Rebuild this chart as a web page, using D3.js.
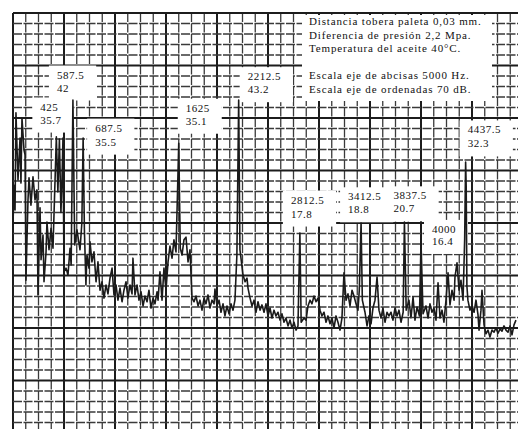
<!DOCTYPE html>
<html><head><meta charset="utf-8">
<script src="https://cdn.jsdelivr.net/npm/d3@7"></script>
<style>html,body{margin:0;padding:0;background:#fff;} svg{display:block;}</style>
</head><body>
<svg id="c" width="518" height="429"></svg>
<script>
// ---- data (frequency in Hz, level in dB) ----
const spectrum = [
[0,19.6],[10,27.2],[20,22.5],[29,41.0],[49,28.2],[69,36.2],[78,27.6],[88,40.0],[108,33.9],[118,33.0],[127,9.1],[147,24.4],[157,28.6],[176,23.4],[196,28.8],[216,24.4],[235,26.3],[245,6.3],[265,22.9],[275,13.0],[294,17.7],[304,8.8],[324,14.5],[333,20.2],[353,14.9],[373,19.0],[392,15.2],[425,36.4],[440,25.9],[455,36.0],[470,22.0],[480,28.0],[490,36.2],[500,10.7],[520,11.4],[539,10.1],[559,15.2],[570,12.0],[580,30.0],[587.5,43.4],[605,15.8],[627,18.7],[657,14.9],[675,20.0],[687.5,36.2],[700,18.7],[715,8.2],[725,13.9],[745,11.4],[755,16.4],[774,12.6],[794,14.5],[814,8.8],[833,12.6],[853,7.2],[873,8.8],[892,5.7],[912,8.2],[931,6.5],[951,9.5],[971,11.4],[990,6.3],[1010,8.2],[1029,5.3],[1049,7.6],[1069,5.0],[1088,7.2],[1108,8.8],[1127,5.7],[1147,8.2],[1167,6.5],[1176,13.3],[1196,6.3],[1216,8.2],
[1235,5.3],[1255,6.9],[1275,4.2],[1294,6.1],[1314,5.0],[1333,7.2],[1353,3.8],[1373,5.7],[1392,4.6],[1412,6.9],[1422,5.3],[1441,10.7],[1461,5.3],[1480,11.4],[1500,7.2],[1520,12.6],[1539,15.6],[1559,13.3],[1578,16.8],[1598,14.5],[1625,35.2],[1640,15.2],[1657,13.9],[1676,16.8],[1696,17.3],[1716,12.6],[1735,14.9],[1755,5.7],[1775,5.0],[1794,6.1],[1814,4.2],[1833,5.3],[1853,3.4],[1873,5.7],[1892,4.6],[1912,6.3],[1931,3.8],[1951,5.3],[1971,4.6],[1980,7.4],[2000,4.2],[2020,5.3],[2039,3.0],[2059,4.6],[2078,2.3],[2098,4.2],[2118,2.7],[2137,4.6],[2157,3.4],[2176,5.3],[2195,13.9],[2212.5,43.4],[2225,14.9],[2255,10.1],[2275,8.8],[2294,9.5],[2304,7.6],[2324,5.7],[2343,4.2],[2363,5.3],[2382,3.0],[2402,5.0],[2422,3.4],[2441,4.4],
[2461,3.0],[2480,4.6],[2500,2.3],[2520,3.8],[2539,1.9],[2559,3.4],[2578,2.3],[2598,3.0],[2618,1.5],[2637,2.7],[2657,1.1],[2676,1.9],[2696,0.4],[2716,1.5],[2735,0.0],[2755,1.1],[2775,-0.4],[2794,0.4],[2812.5,18.1],[2825,1.1],[2853,1.9],[2873,1.5],[2892,4.2],[2912,5.3],[2931,4.6],[2951,6.1],[2971,5.0],[2990,5.7],[3010,3.4],[3029,2.3],[3049,3.0],[3069,1.1],[3088,2.3],[3108,0.8],[3127,1.9],[3147,0.0],[3167,2.3],[3186,1.1],[3206,-0.4],[3225,1.9],[3245,10.5],[3265,5.3],[3284,6.5],[3304,4.2],[3324,7.2],[3343,6.1],[3363,4.6],[3382,3.4],[3395,7.2],[3412.5,20.0],[3425,5.3],[3451,3.0],[3471,0.4],[3490,2.3],[3510,0.8],[3529,3.8],[3549,5.3],[3569,9.7],[3588,3.4],[3608,1.9],[3627,3.8],[3647,1.1],[3667,3.0],[3686,2.3],
[3706,3.0],[3725,1.5],[3745,3.8],[3765,2.3],[3784,3.4],[3804,1.1],[3825,3.0],[3837.5,20.2],[3855,3.4],[3882,5.3],[3902,1.9],[3922,5.9],[3941,1.5],[3961,4.0],[3985,2.3],[4000,16.4],[4020,2.7],[4049,4.2],[4069,1.9],[4088,4.6],[4108,3.0],[4127,3.8],[4147,1.5],[4167,8.6],[4186,1.9],[4206,3.4],[4225,1.1],[4245,5.3],[4265,10.5],[4284,4.4],[4304,7.2],[4324,5.3],[4333,9.7],[4353,12.4],[4373,7.2],[4392,9.1],[4412,5.3],[4428,16.8],[4437.5,31.6],[4443,27.0],[4450,8.0],[4460,5.3],[4480,3.4],[4500,4.2],[4520,3.0],[4539,5.3],[4559,2.5],[4569,-0.4],[4588,3.4],[4598,7.2],[4618,0.6],[4637,-1.1],[4657,-0.4],[4676,-1.7],[4696,-0.4],[4716,-0.8],[4735,0.0],[4755,-1.0],[4775,-0.2],[4794,-0.6],[4814,0.4],[4833,-0.4],[4853,-0.8],[4873,0.4],[4892,-1.3],[4912,0.6],[4931,1.5]
];
const peakFreqs  = [425, 587.5, 687.5, 1625, 2212.5, 2812.5, 3412.5, 3837.5, 4000, 4437.5];
const peakLevels = [35.7, 42, 35.5, 35.1, 43.2, 17.8, 18.8, 20.7, 16.4, 32.3];
const noteLines = [
  "Distancia tobera paleta 0,03 mm.",
  "Diferencia de presión 2,2 Mpa.",
  "Temperatura del aceite 40°C.",
  "",
  "Escala eje de abcisas 5000 Hz.",
  "Escala eje de ordenadas 70 dB."
];
const freqDomain = [0, 5000];
const levelDomain = [-20, 60];
const freqGridStep = 125;
const levelGridStep = 2;

// ---- layout (pixels) ----
const labelOffsets = [
  {dx:-16, dy:-30, gap:13}, {dx:-16, dy:-29, gap:13}, {dx:12, dy:-10, gap:14},
  {dx:7, dy:-32, gap:13},   {dx:9, dy:-21, gap:13},   {dx:-9, dy:-31, gap:14},
  {dx:-13, dy:-29, gap:13}, {dx:-11, dy:-20, gap:13}, {dx:11, dy:-9, gap:12},
  {dx:2, dy:-25, gap:14}
];

const svg = d3.select("#c");
const x = d3.scaleLinear().domain(freqDomain).range([13, 523]);
const y = d3.scaleLinear().domain(levelDomain).range([433, 13]);

const fmt = v => String(v);
const freqGrid = d3.range(freqDomain[0], freqDomain[1] + 1, freqGridStep);
const levelGrid = d3.range(levelDomain[0], levelDomain[1] + 1, levelGridStep);

// grid
const g = svg.append("g");
g.selectAll("line.v").data(freqGrid).join("line")
  .attr("x1", d => x(d)).attr("x2", d => x(d))
  .attr("y1", y(levelDomain[1])).attr("y2", y(levelDomain[0]))
  .attr("stroke", d => d % 500 === 0 ? "#1c1c1c" : "#3a3a3a")
  .attr("stroke-width", d => d % 500 === 0 ? 2 : 1.3)
  .attr("stroke-dasharray", d => d % 500 === 0 ? null : "9,1.5");
g.selectAll("line.h").data(levelGrid).join("line")
  .attr("y1", d => y(d)).attr("y2", d => y(d))
  .attr("x1", x(freqDomain[0])).attr("x2", x(freqDomain[1]))
  .attr("stroke", d => d % 10 === 0 ? "#1c1c1c" : "#3a3a3a")
  .attr("stroke-width", d => d % 10 === 0 ? 2 : 1.3)
  .attr("stroke-dasharray", d => d % 10 === 0 ? null : "9,1.5");

const boxes = svg.append("g");

// spectrum line
svg.append("path")
  .datum(spectrum)
  .attr("d", d3.line().x(d => x(d[0])).y(d => y(d[1])))
  .attr("fill", "none").attr("stroke", "#1a1a1a").attr("stroke-width", 1.6)
  .attr("stroke-linejoin", "round");

// notes block
boxes.append("rect").attr("x", 302).attr("y", 15).attr("width", 190).attr("height", 86).attr("fill", "#fff");
const noteG = svg.append("g")
  .attr("font-family", "'Liberation Serif','DejaVu Serif',serif")
  .attr("fill", "#111").attr("font-size", 11).attr("letter-spacing", 0.85);
noteLines.forEach((t, i) => {
  noteG.append("text").attr("x", 309).attr("y", 25 + i * 13.6).text(t);
});

// peak labels
const labelsG = svg.append("g")
  .attr("font-family", "'Liberation Serif','DejaVu Serif',serif")
  .attr("fill", "#111").attr("font-size", 11).attr("letter-spacing", 0.5);
peakFreqs.forEach((f, i) => {
  const o = labelOffsets[i];
  const lx = x(f) + o.dx, ly = y(peakLevels[i]) + o.dy;
  const t1 = labelsG.append("text").attr("x", lx).attr("y", ly).text(fmt(f));
  const t2 = labelsG.append("text").attr("x", lx).attr("y", ly + o.gap).text(fmt(peakLevels[i]));
  const w = Math.max(t1.node().getComputedTextLength(), t2.node().getComputedTextLength());
  boxes.append("rect").attr("x", lx - 8).attr("y", ly - 13)
    .attr("width", w + 20).attr("height", o.gap + 22).attr("fill", "#fff");
});
</script>
</body></html>
